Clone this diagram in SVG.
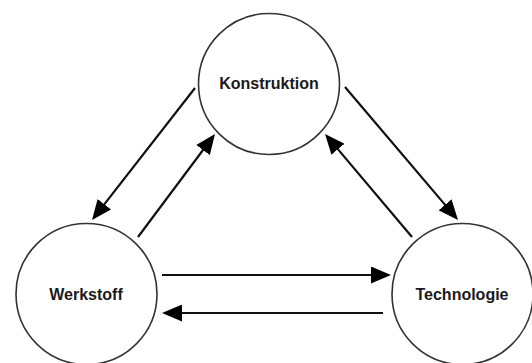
<svg xmlns="http://www.w3.org/2000/svg" width="532" height="363" viewBox="0 0 532 363">
<defs>
<style>
.node circle{fill:#fff;stroke:#333;stroke-width:1.6}
.node text{font-family:"Liberation Sans",Arial,sans-serif;font-weight:bold;font-size:16px;fill:#1a1a1a;text-anchor:middle}
.conn line{stroke:#111;stroke-width:2.2;fill:none}
</style>
<marker id="ah" markerUnits="userSpaceOnUse" markerWidth="20" markerHeight="17" refX="10" refY="8.5" orient="auto" viewBox="0 0 20 17">
<path d="M0,0 L20,8.5 L0,17 z" fill="#000"/>
</marker>
</defs>
<rect width="532" height="363" fill="#fff"/>
<g id="connectors" class="conn">
<line x1="195" y1="88" x2="98.2" y2="212.1" marker-end="url(#ah)"/>
<line x1="138" y1="237" x2="209" y2="142" marker-end="url(#ah)"/>
<line x1="345" y1="87" x2="451.5" y2="212.4" marker-end="url(#ah)"/>
<line x1="412" y1="237" x2="331.5" y2="141.6" marker-end="url(#ah)"/>
<line x1="162" y1="275" x2="381" y2="275" marker-end="url(#ah)"/>
<line x1="383" y1="313" x2="172" y2="313" marker-end="url(#ah)"/>
</g>
<g id="konstruktion" class="node">
<circle cx="269" cy="84" r="70.5"/>
<text x="269" y="89">Konstruktion</text>
</g>
<g id="werkstoff" class="node">
<circle cx="86.5" cy="294" r="70.5"/>
<text x="86" y="299.5">Werkstoff</text>
</g>
<g id="technologie" class="node">
<circle cx="462.5" cy="294" r="70.5"/>
<text x="462" y="299.5">Technologie</text>
</g>
</svg>
